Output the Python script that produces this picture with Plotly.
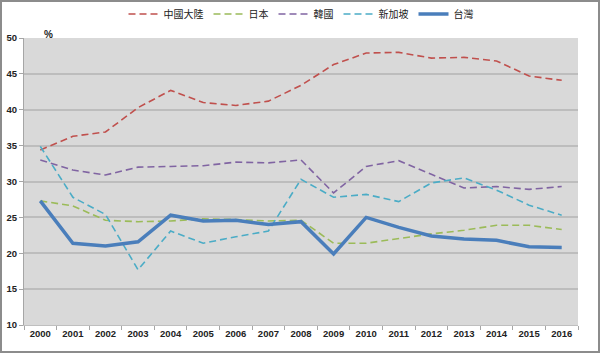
import plotly.graph_objects as go

years = list(range(2000, 2017))
china = [34.4, 36.3, 36.9, 40.3, 42.7, 41.0, 40.6, 41.2, 43.4, 46.3, 47.9, 48.0, 47.2, 47.3, 46.8, 44.7, 44.1]
japan = [27.3, 26.6, 24.6, 24.4, 24.5, 24.8, 24.7, 24.5, 24.6, 21.4, 21.4, 22.1, 22.7, 23.2, 23.9, 23.9, 23.3]
korea = [33.0, 31.6, 30.9, 32.0, 32.1, 32.2, 32.7, 32.6, 33.0, 28.4, 32.1, 32.9, 31.0, 29.1, 29.3, 28.9, 29.3]
singapore = [34.9, 27.8, 25.4, 17.7, 23.1, 21.4, 22.3, 23.1, 30.3, 27.8, 28.2, 27.2, 29.8, 30.5, 28.8, 26.7, 25.3]
taiwan = [27.3, 21.4, 21.0, 21.6, 25.3, 24.5, 24.6, 24.0, 24.4, 19.9, 25.0, 23.6, 22.4, 22.0, 21.8, 20.9, 20.8]

series = [
    ("中國大陸", china, "#C0504D", "7px,4px", 1.6),
    ("日本", japan, "#9BBB59", "7px,4px", 1.6),
    ("韓國", korea, "#8064A2", "7px,4px", 1.6),
    ("新加坡", singapore, "#4BACC6", "7px,4px", 1.6),
    ("台灣", taiwan, "#4A7EBB", "solid", 3.5),
]

fig = go.Figure()
for name, vals, color, dash, w in series:
    fig.add_trace(go.Scatter(x=years, y=vals, name=name, mode="lines",
                             line=dict(color=color, dash=dash, width=w)))

W, H = 600, 353
ml, mr, mt, mb = 24, 22, 38, 28
pw, ph = W - ml - mr, H - mt - mb

tickfont = dict(family="Liberation Sans, Arial", size=9.5, color="#222222")

fig.update_layout(
    width=W, height=H,
    margin=dict(l=ml, r=mr, t=mt, b=mb, pad=0, autoexpand=False),
    paper_bgcolor="white",
    plot_bgcolor="#D9D9D9",
    showlegend=True,
    legend=dict(orientation="h", x=0.5, xanchor="center", y=1 + 24 / ph, yanchor="middle",
                font=dict(family="Noto Sans CJK TC", size=10, color="#222222"),
                itemwidth=30, tracegroupgap=0, bgcolor="rgba(0,0,0,0)"),
    xaxis=dict(range=[1999.5, 2016.5], tickmode="array", tickvals=years,
               ticktext=[f"<b>{y}</b>" for y in years], tickfont=tickfont,
               showgrid=False, zeroline=False, ticks="",
               showline=True, linecolor="#BFBFBF", linewidth=1,
               minor=dict(ticks="outside", tick0=1999.5, dtick=1, ticklen=4,
                          tickcolor="#A6A6A6", showgrid=False)),
    yaxis=dict(range=[10, 50], tickmode="array", tickvals=list(range(10, 51, 5)),
               ticktext=[f"<b>{v}</b>" for v in range(10, 51, 5)], tickfont=tickfont,
               showgrid=True, gridcolor="#BDBDBD", gridwidth=1.5, zeroline=False,
               ticks="outside", ticklen=4, tickcolor="#A6A6A6",
               showline=True, linecolor="#A6A6A6", linewidth=1),
    annotations=[dict(text="<b>%</b>", x=18 / pw, y=1 + 11 / ph, xref="paper", yref="paper",
                      showarrow=False, font=dict(family="Liberation Sans, Arial", size=10, color="#222222"))],
    shapes=[dict(type="rect", xref="paper", yref="paper",
                 x0=-(ml - 1) / pw, x1=1 + (mr - 1) / pw, y0=-(mb - 1) / ph, y1=1 + (mt - 1) / ph,
                 line=dict(color="#8C8C8C", width=2), fillcolor="rgba(0,0,0,0)", layer="below")],
)

fig.write_html("out.html")
